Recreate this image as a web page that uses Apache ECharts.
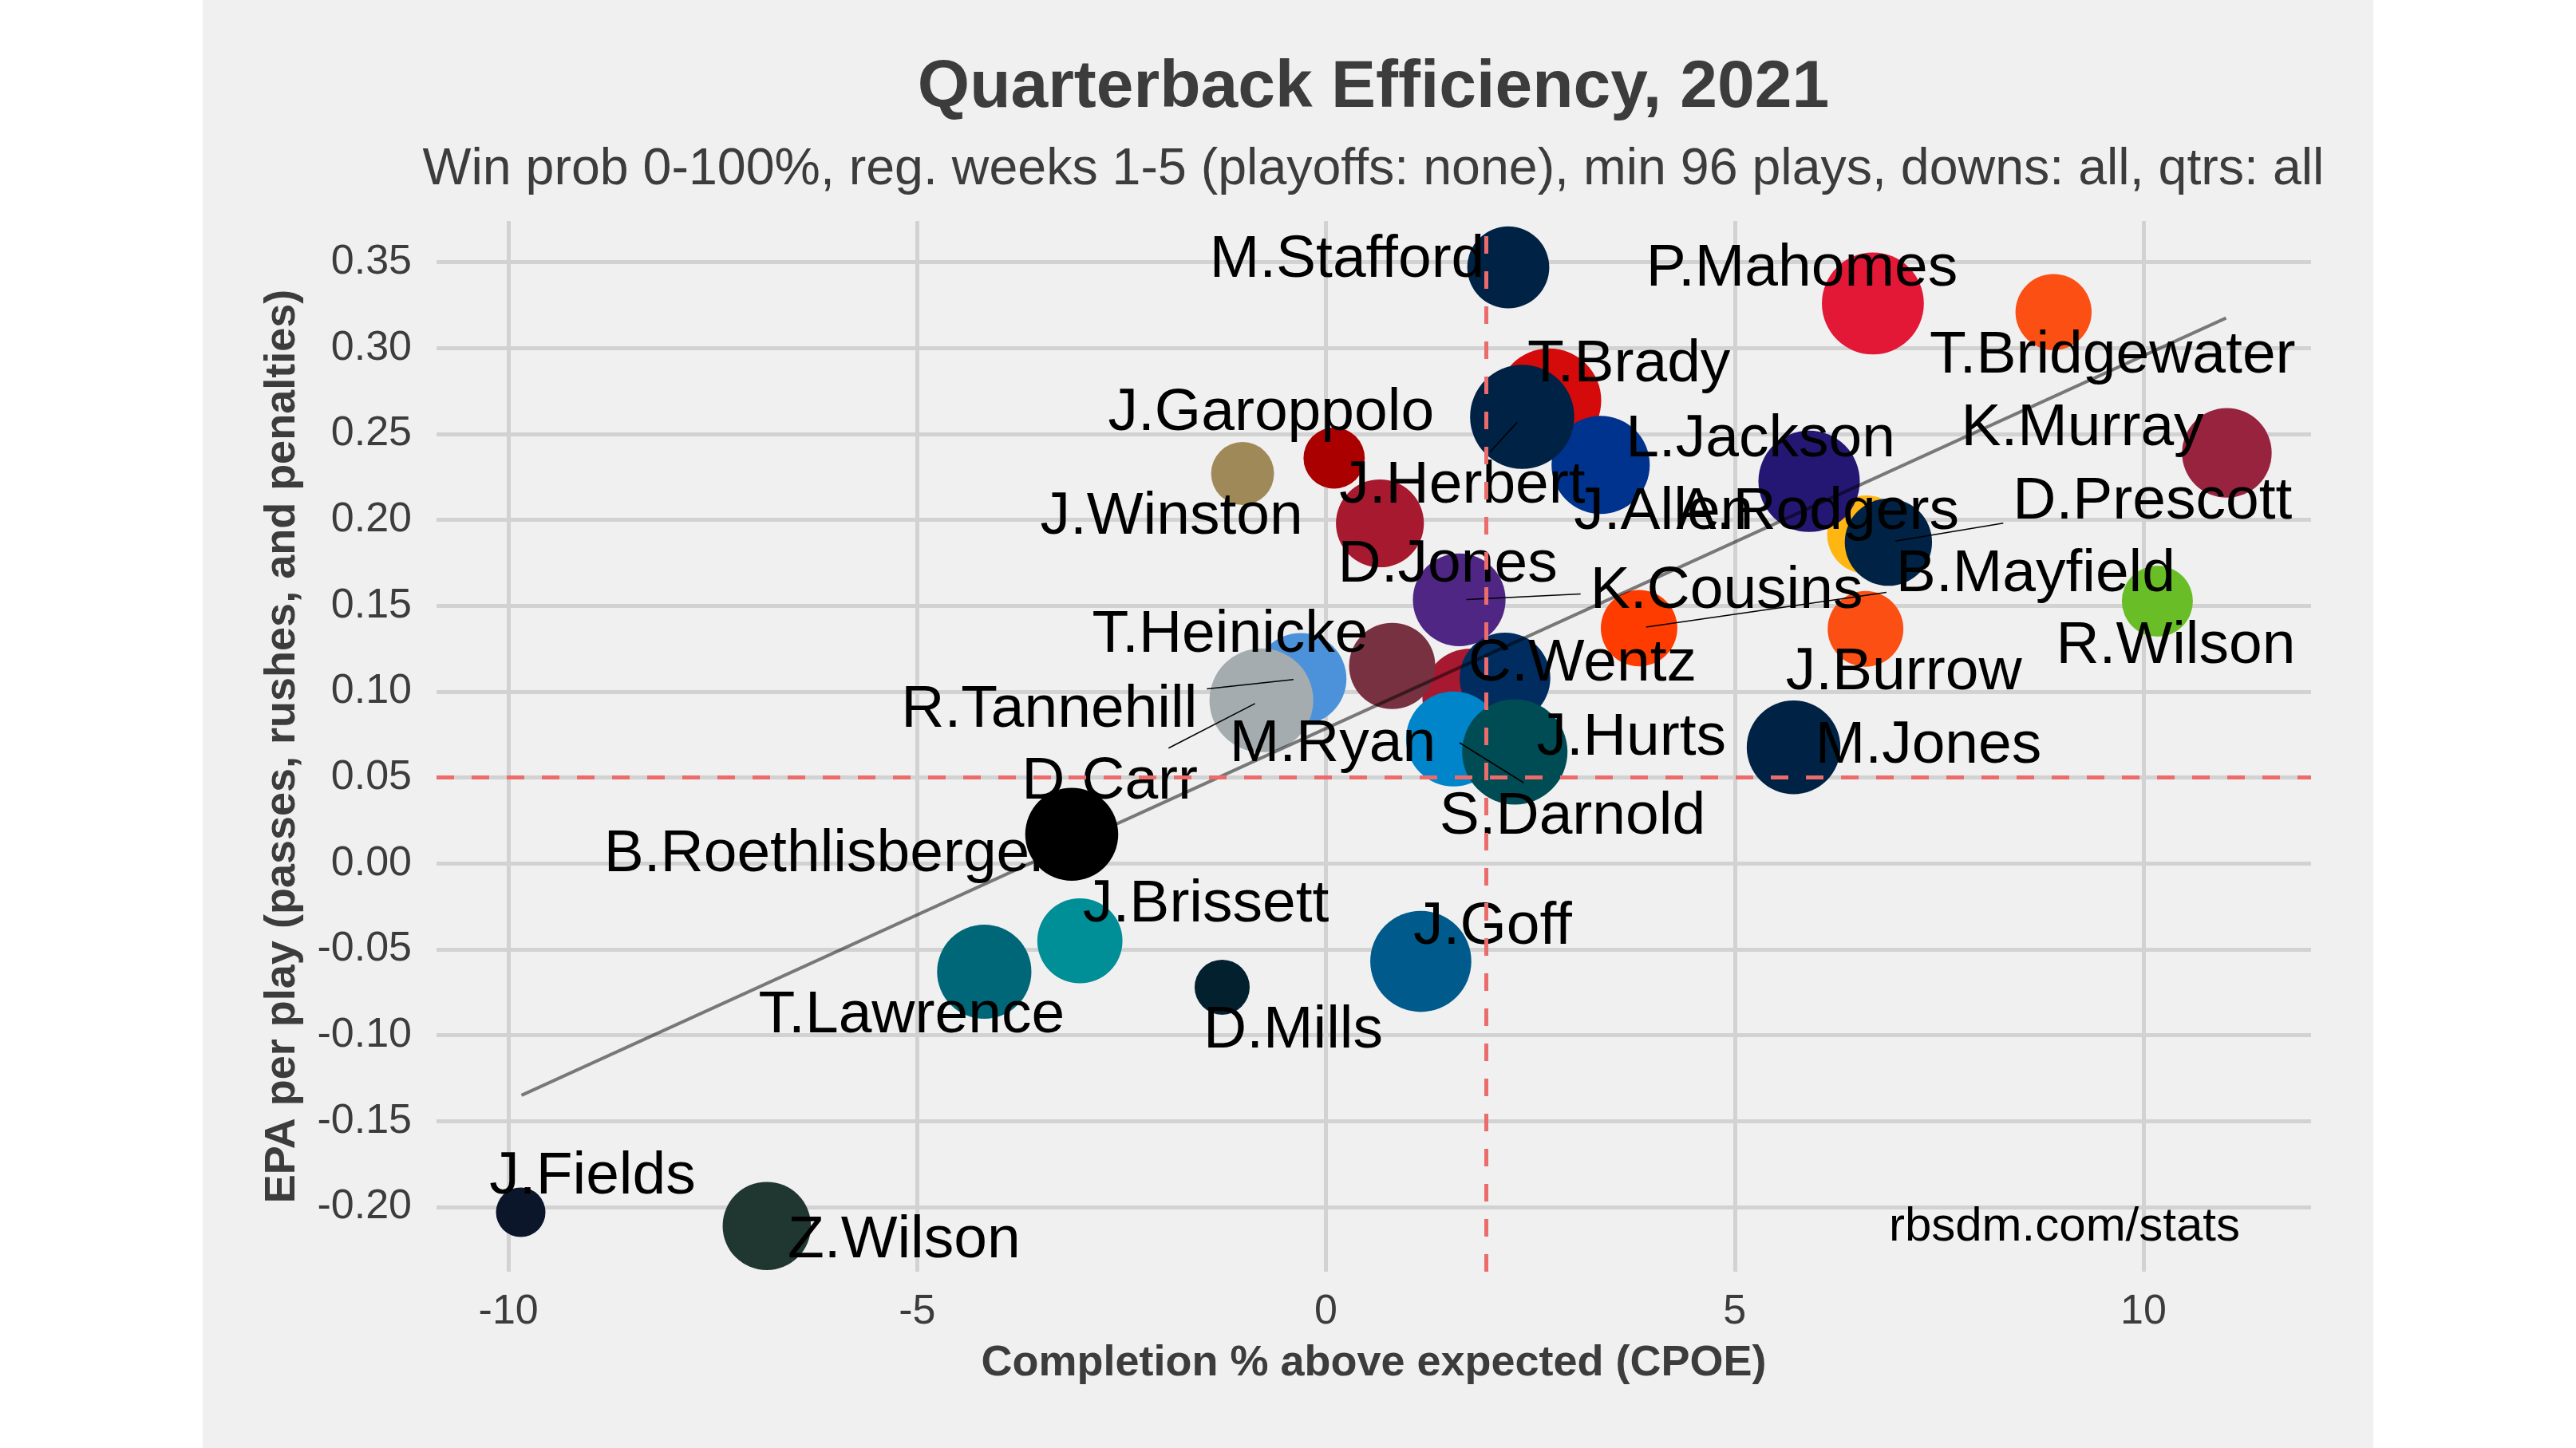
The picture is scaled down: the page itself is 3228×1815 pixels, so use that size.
<!DOCTYPE html>
<html>
<head>
<meta charset="utf-8">
<title>Quarterback Efficiency, 2021</title>
<script src="https://cdn.jsdelivr.net/npm/echarts@6/dist/echarts.min.js"></script>
<style>
  html, body { margin: 0; padding: 0; background: #fff; }
  #panel { position: absolute; left: 254px; top: 0; width: 2720px; height: 1815px; background: #f0f0f0; }
  #chart { position: absolute; left: 0; top: 0; width: 3228px; height: 1815px; }
</style>
</head>
<body>
<div id="panel"></div>
<div id="chart"></div>
<script>
// QB data (draw order: later rows sit on top)
const players = [
  "J.Fields", "Z.Wilson", "T.Lawrence", "J.Brissett", "D.Mills", "J.Goff",
  "B.Roethlisberger", "R.Tannehill", "D.Carr", "M.Ryan", "T.Heinicke", "K.Cousins",
  "C.Wentz", "S.Darnold", "J.Hurts", "M.Jones", "B.Mayfield", "J.Burrow",
  "R.Wilson", "A.Rodgers", "D.Prescott", "L.Jackson", "K.Murray", "T.Brady",
  "J.Allen", "J.Herbert", "J.Garoppolo", "J.Winston", "D.Jones", "M.Stafford",
  "P.Mahomes", "T.Bridgewater"
];
const cpoe = [
  -9.85, -6.84, -4.18, -3.01, -1.27, 1.16,
  -3.11, -0.31, -0.79, 1.77, 0.81, 1.63,
  2.19, 1.56, 2.31, 5.72, 3.83, 6.60,
  10.17, 6.61, 6.88, 5.91, 11.02, 2.73,
  3.36, 2.40, 0.10, -1.02, 0.66, 2.23,
  6.69, 8.90
];
const epa = [
  -0.203, -0.211, -0.063, -0.045, -0.072, -0.057,
  0.017, 0.1075, 0.095, 0.097, 0.115, 0.1535,
  0.108, 0.0725, 0.065, 0.0676, 0.137, 0.1366,
  0.1527, 0.1915, 0.187, 0.2225, 0.239, 0.2695,
  0.232, 0.26, 0.236, 0.227, 0.198, 0.347,
  0.326, 0.321
];
const plays = [
  100, 197, 215, 188, 112, 236,
  211, 207, 245, 222, 191, 210,
  204, 217, 250, 213, 164, 162,
  150, 169, 194, 237, 201, 246,
  227, 246, 126, 130, 196, 179,
  239, 163
];
const xTicks = [-10, -5, 0, 5, 10];
const yTicks = [-0.2, -0.15, -0.1, -0.05, 0, 0.05, 0.1, 0.15, 0.2, 0.25, 0.3, 0.35];
const cpoeAvg = 1.96;
const epaAvg = 0.0505;
const fitLine = [[-9.84, -0.1349], [11.01, 0.3175]];

// styling
const teamColors = [
  "#0B162A", "#203731", "#006778", "#008E97", "#03202F", "#005A8B",
  "#000000", "#4B92DB", "#A5ACAF", "#A71930", "#773141", "#4F2683",
  "#002C5F", "#0085CA", "#004C54", "#002244", "#FF3C00", "#FB4F14",
  "#69BE28", "#FFB612", "#002244", "#241773", "#97233F", "#D50A0A",
  "#00338D", "#002244", "#AA0000", "#9F8958", "#A6192E", "#002244",
  "#E31837", "#FB4F14"
];
// label placement: pixel offset of each name from its bubble centre (repelled labels)
const labelOffsets = [
  [90, -49], [172, 14], [-91, 50], [158, -50], [89, 50], [90, -48],
  [-307, 21], [-315, 34], [-190, 98], [-173, 55], [-203, -43], [335, -16],
  [97, -22], [149, 93], [146, -22], [169, -6], [497, -72], [48, 50],
  [23, 52], [-61, -33], [331, -55], [-61, -57], [-181, -35], [100, -50],
  [79, 55], [-75, 82], [-79, -61], [-89, 50], [85, 47], [-202, -14],
  [-89, -48], [74, 50]
];
const labelsWithSegment = ["J.Herbert", "K.Cousins", "B.Mayfield", "D.Prescott", "R.Tannehill", "D.Carr", "S.Darnold"];

const FONT = '"Liberation Sans", Arial, sans-serif';
const LABEL_SIZE = 75;
const LABEL_SHIFT = 5; // em-box middle sits a little above the cap middle
const INK = "#3c3c3c";

function bubbleSize(n) {
  return 62 + (Math.sqrt(n) - 10) * 12.05;
}

const measure = document.createElement("canvas").getContext("2d");
measure.font = LABEL_SIZE + "px " + FONT;

function renderLabel(params, api) {
  const i = api.value(2);
  const pt = api.coord([api.value(0), api.value(1)]);
  const cx = pt[0] + labelOffsets[i][0];
  const cy = pt[1] + labelOffsets[i][1];
  const children = [];
  if (labelsWithSegment.includes(players[i])) {
    const hw = measure.measureText(players[i]).width / 2 + 12;
    const hh = 38;
    const vx = pt[0] - cx, vy = pt[1] - cy;
    const t = Math.min(vx ? hw / Math.abs(vx) : Infinity, vy ? hh / Math.abs(vy) : Infinity);
    if (t < 1) {
      const len = Math.hypot(vx, vy);
      children.push({
        type: "line",
        shape: { x1: cx + vx * t, y1: cy + vy * t, x2: pt[0] - vx / len * 9, y2: pt[1] - vy / len * 9 },
        style: { stroke: "#000", lineWidth: 1.5 },
      });
    }
  }
  children.push({
    type: "text",
    x: cx,
    y: cy + LABEL_SHIFT,
    style: {
      text: players[i],
      fill: "#000",
      font: LABEL_SIZE + "px " + FONT,
      align: "center",
      verticalAlign: "middle",
      textAlign: "center",
      textVerticalAlign: "middle",
    },
  });
  return { type: "group", children };
}

const chart = echarts.init(document.getElementById("chart"), null, { renderer: "canvas" });

chart.setOption({
  animation: false,
  backgroundColor: "transparent",
  textStyle: { fontFamily: FONT },
  grid: { left: 547, right: 332, top: 277, bottom: 221, containLabel: false, outerBoundsMode: "none" },
  xAxis: {
    type: "value",
    min: -10.88,
    max: 12.05,
    axisLine: { show: false },
    axisTick: { show: false, customValues: xTicks },
    axisLabel: { customValues: xTicks, fontSize: 52, color: INK, margin: 25, fontFamily: FONT },
    splitLine: { show: true, lineStyle: { color: "#d2d2d2", width: 5 } },
    name: "Completion % above expected (CPOE)",
    nameLocation: "middle",
    nameGap: 88,
    nameTextStyle: { fontSize: 54, fontWeight: "bold", color: INK, fontFamily: FONT },
  },
  yAxis: {
    type: "value",
    min: -0.2376,
    max: 0.374,
    axisLine: { show: false },
    axisTick: { show: false, customValues: yTicks },
    axisLabel: {
      customValues: yTicks,
      fontSize: 52,
      color: INK,
      margin: 31,
      fontFamily: FONT,
      formatter: (v) => v.toFixed(2),
    },
    splitLine: { show: true, lineStyle: { color: "#d2d2d2", width: 5 } },
    name: "EPA per play (passes, rushes, and penalties)",
    nameLocation: "middle",
    nameGap: 166,
    nameTextStyle: { fontSize: 54, fontWeight: "bold", color: INK, fontFamily: FONT },
  },
  graphic: [
    {
      type: "text",
      x: 1721,
      y: 111,
      style: {
        text: "Quarterback Efficiency, 2021",
        font: "bold 84px " + FONT,
        fill: INK,
        align: "center",
        verticalAlign: "middle",
        textAlign: "center",
        textVerticalAlign: "middle",
      },
    },
    {
      type: "text",
      x: 1721,
      y: 213,
      style: {
        text: "Win prob 0-100%, reg. weeks 1-5 (playoffs: none), min 96 plays, downs: all, qtrs: all",
        font: "64.5px " + FONT,
        fill: INK,
        align: "center",
        verticalAlign: "middle",
        textAlign: "center",
        textVerticalAlign: "middle",
      },
    },
    {
      type: "text",
      x: 2807,
      y: 1538,
      z: 100,
      style: {
        text: "rbsdm.com/stats",
        font: "60px " + FONT,
        fill: "#000",
        align: "right",
        verticalAlign: "middle",
        textAlign: "right",
        textVerticalAlign: "middle",
      },
    },
  ],
  series: [
    {
      type: "line",
      z: 1,
      silent: true,
      data: [],
      markLine: {
        silent: true,
        symbol: ["none", "none"],
        label: { show: false },
        lineStyle: { color: "#ec6b6b", width: 5, type: [22, 22] },
        data: [{ xAxis: cpoeAvg }, { yAxis: epaAvg }],
      },
    },
    {
      type: "scatter",
      z: 2,
      silent: true,
      symbolSize: (v) => bubbleSize(v[2]),
      itemStyle: { opacity: 1 },
      data: players.map((p, i) => ({
        name: p,
        value: [cpoe[i], epa[i], plays[i]],
        itemStyle: { color: teamColors[i] },
      })),
    },
    {
      type: "line",
      z: 3,
      silent: true,
      symbol: "none",
      showSymbol: false,
      lineStyle: { color: "rgba(0,0,0,0.5)", width: 4 },
      data: fitLine,
    },
    {
      type: "custom",
      z: 4,
      silent: true,
      clip: false,
      renderItem: renderLabel,
      data: players.map((p, i) => [cpoe[i], epa[i], i]),
    },
  ],
});

window.addEventListener("resize", () => chart.resize());
</script>
</body>
</html>
